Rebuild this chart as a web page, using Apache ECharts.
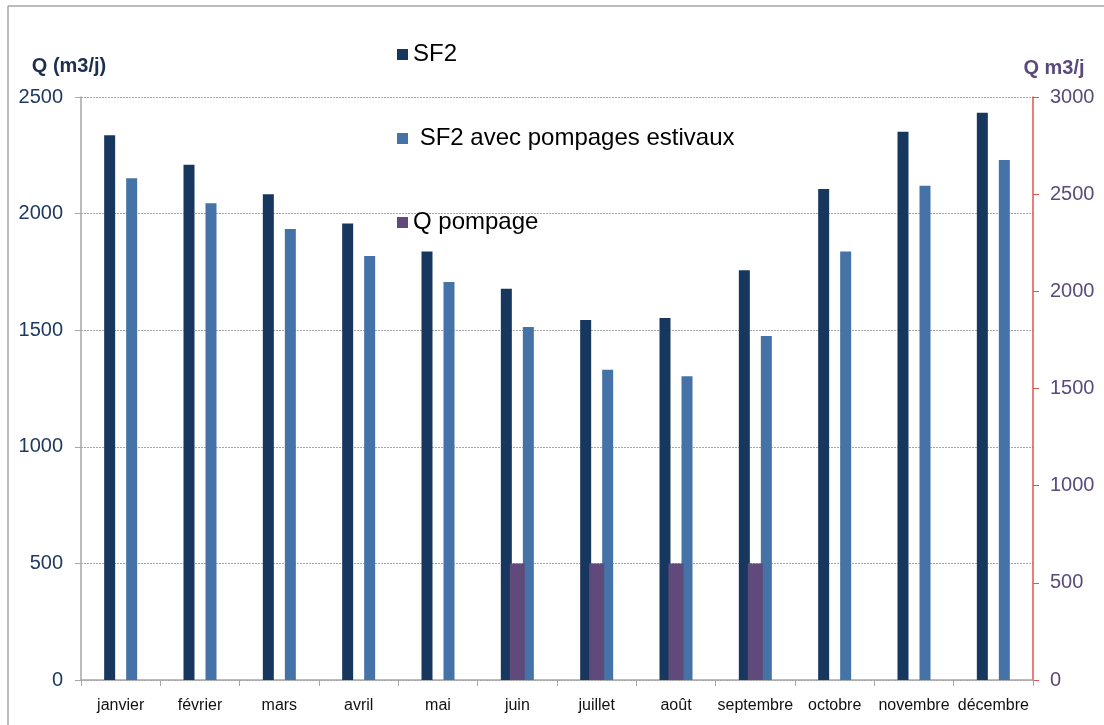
<!DOCTYPE html>
<html>
<head>
<meta charset="utf-8">
<script src="https://cdn.jsdelivr.net/npm/echarts@6/dist/echarts.min.js"></script>
<style>
html,body{margin:0;padding:0;background:#fff;}
#c{width:1104px;height:725px;}
</style>
</head>
<body>
<div id="c"></div>
<script>
const categories = ['janvier','février','mars','avril','mai','juin','juillet','août','septembre','octobre','novembre','décembre'];
const sf2 = [2336, 2210, 2083, 1958, 1838, 1678, 1544, 1552, 1757, 2106, 2351, 2432];
const sf2Pompages = [2152, 2044, 1934, 1818, 1707, 1514, 1330, 1302, 1475, 1838, 2119, 2230];
const qPompage = [null, null, null, null, null, 600, 600, 600, 600, null, null, null];
const leftTicks = {min: 0, max: 2500, interval: 500};
const rightTicks = {min: 0, max: 3000, interval: 500};

const FONT = '"Liberation Sans", Arial, sans-serif';
const chart = echarts.init(document.getElementById('c'));
const legendText = {fontFamily: FONT, fontSize: 24, color: '#000', lineHeight: 24};
function mkLegend(name, top) {
  return {
    data: [name], left: 392, top: top, orient: 'vertical', icon: 'rect',
    itemWidth: 11, itemHeight: 11, textStyle: legendText, selectedMode: false
  };
}
const plain = v => String(v);
chart.setOption({
  animation: false,
  backgroundColor: '#fff',
  grid: {left: 81, right: 71, top: 97, bottom: 45, containLabel: false},
  graphic: [
    {type: 'line', shape: {x1: 8, y1: 6, x2: 1104, y2: 6}, style: {stroke: '#a6a6a6', lineWidth: 1.5}},
    {type: 'line', shape: {x1: 8, y1: 6, x2: 8, y2: 725}, style: {stroke: '#a6a6a6', lineWidth: 1.5}}
  ],
  legend: [
    mkLegend('SF2', 37.5),
    mkLegend(' SF2 avec pompages estivaux', 121.5),
    mkLegend('Q pompage', 205.5)
  ],
  xAxis: [
    {
      type: 'category', data: categories, boundaryGap: true,
      axisLine: {lineStyle: {color: '#a6a6a6', width: 1.5}},
      axisTick: {show: true, length: 6, lineStyle: {color: '#a6a6a6'}},
      axisLabel: {fontFamily: FONT, fontSize: 16, color: '#111', margin: 18, interval: 0}
    },
    {
      type: 'category', data: categories, show: false, boundaryGap: true
    }
  ],
  yAxis: [
    {
      type: 'value', position: 'left', min: leftTicks.min, max: leftTicks.max, interval: leftTicks.interval,
      name: 'Q (m3/j)', nameLocation: 'end', nameGap: 30.5,
      nameTextStyle: {fontFamily: FONT, fontSize: 20, fontWeight: 'bold', color: '#1d2f4f', align: 'center', verticalAlign: 'middle', padding: [0, 24, 0, 0]},
      axisLine: {show: true, lineStyle: {color: '#a6a6a6', width: 1.5}},
      axisTick: {show: true, inside: false, length: 6, lineStyle: {color: '#a6a6a6'}},
      axisLabel: {fontFamily: FONT, fontSize: 20, color: '#1f3a60', margin: 18, formatter: plain},
      splitLine: {show: true, lineStyle: {color: '#a6a6a6', type: [2, 1], width: 1}}
    },
    {
      type: 'value', position: 'right', min: rightTicks.min, max: rightTicks.max, interval: rightTicks.interval,
      name: 'Q m3/j', nameLocation: 'end', nameGap: 28.5,
      nameTextStyle: {fontFamily: FONT, fontSize: 20, fontWeight: 'bold', color: '#5a4a7c', align: 'center', verticalAlign: 'middle', padding: [0, 0, 0, 42]},
      axisLine: {show: true, lineStyle: {color: '#e05252', width: 1.5}},
      axisTick: {show: true, inside: false, length: 6, lineStyle: {color: '#e05252'}},
      axisLabel: {fontFamily: FONT, fontSize: 20, color: '#5a4a7c', margin: 17, formatter: plain},
      splitLine: {show: false}
    }
  ],
  series: [
    {
      name: 'SF2', type: 'bar', xAxisIndex: 0, yAxisIndex: 0, data: sf2,
      barWidth: 11, barGap: '100%', itemStyle: {color: '#17375e'}
    },
    {
      name: ' SF2 avec pompages estivaux', type: 'bar', xAxisIndex: 0, yAxisIndex: 0, data: sf2Pompages,
      barWidth: 11, barGap: '100%', itemStyle: {color: '#4573a7'}
    },
    {
      name: 'Q pompage', type: 'bar', xAxisIndex: 1, yAxisIndex: 1, data: qPompage,
      barWidth: 15, itemStyle: {color: '#604a7b'}, z: 3
    }
  ]
});
</script>
</body>
</html>
